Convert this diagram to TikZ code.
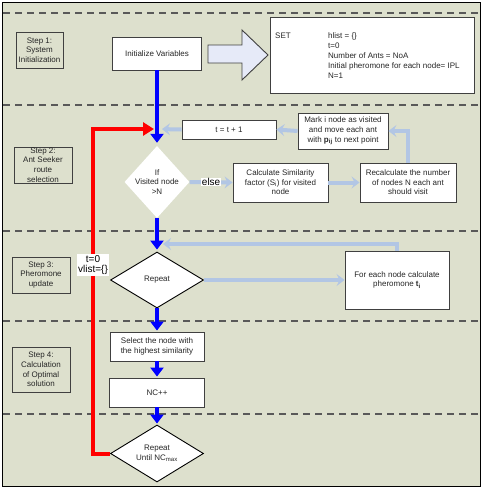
\documentclass[tikz,border=0pt]{standalone}
\usepackage{fontspec}
\setmainfont{Liberation Sans}
\usetikzlibrary{shapes.geometric,arrows.meta,calc}
\definecolor{sage}{RGB}{221,224,205}
\definecolor{lblue}{RGB}{178,198,228}
\definecolor{arrfill}{RGB}{230,234,248}
\newcommand{\myfs}{\fontsize{8}{9.6}\selectfont}
\newcommand{\mybig}{\fontsize{10}{10}\selectfont}
\begin{document}
\begin{tikzpicture}[x=1pt,y=-1pt,
  box/.style={draw=black!75, fill=white, line width=0.9pt, inner sep=1pt, align=center, font=\myfs, text=black!85},
  stepbox/.style={draw=black!75, fill=sage, line width=0.9pt, inner sep=0pt, align=center, font=\myfs, text=black!85},
  dia/.style={diamond, fill=white, inner sep=0pt},
  dtext/.style={align=center, font=\myfs, text=black!85},
  blue arrow/.style={draw=blue, line width=3.5pt, -{Triangle[width=13pt,length=9pt]}},
  red arrow/.style={draw=red, line width=4pt, -{Triangle[width=13pt,length=11pt]}},
  lb arrow/.style={draw=lblue, line width=4pt, -{Stealth[width=12pt,length=8pt,inset=3pt]}},
  sep/.style={draw=black!65, line width=1.2pt, dash pattern=on 7pt off 5pt}
]
\useasboundingbox (0,0) rectangle (483,490);
\fill[white] (0,0) rectangle (483,490);
\draw[fill=sage, line width=1pt] (2,2) rectangle (480.5,486.5);

% separators
\foreach \yy in {13,105,231,321,414} \draw[sep] (3,\yy) -- (480,\yy);

% step boxes
\node[stepbox, minimum width=47pt, minimum height=36pt] (s1) at (39.5,50) {Step 1:\\System\\Initialization};
\node[stepbox, minimum width=58pt, minimum height=36pt] (s2) at (43,165) {Step 2:\\Ant Seeker\\route\\selection};
\node[stepbox, minimum width=58pt, minimum height=36pt] (s3) at (41,275) {Step 3:\\Pheromone\\update};
\node[stepbox, minimum width=58pt, minimum height=45pt] (s4) at (41,369.5) {Step 4:\\Calculation\\of Optimal\\solution};

% step 1
\node[box, minimum width=89pt, minimum height=33pt] (init) at (157,53.5) {Initialize Variables};
\draw[draw=black!75, line width=0.9pt, fill=arrfill] (208,45) -- (242,45) -- (242,30) -- (268,55) -- (242,80) -- (242,63) -- (208,63) -- cycle;
\node[box, minimum width=204pt, minimum height=76pt] (set) at (372,55) {};
\node[anchor=north west, inner sep=0pt, font=\myfs, text=black!85] (setl) at (275,32.5) {SET};
\node[anchor=north west, inner sep=0pt, align=left, font=\fontsize{8}{10}\selectfont, text=black!85] (setv) at (328,32.5)
  {hlist = \{\}\\t=0\\Number of Ants = NoA\\Initial pheromone for each node= IPL\\N=1};

% step 2
\node[box, minimum width=94pt, minimum height=19pt] (tbox) at (229,129.5) {t = t + 1};
\node[box, minimum width=90pt, minimum height=36pt] (mark) at (343,131) {Mark i node as visited\\and move each ant\\with \textbf{p\textsubscript{ij}} to next point};
\node[box, minimum width=95pt, minimum height=39pt] (calc) at (280.5,182.5) {Calculate Similarity\\factor (S\textsubscript{i}) for visited\\node};
\node[box, minimum width=96pt, minimum height=39pt] (recalc) at (408,182.5) {Recalculate the number\\of nodes N each ant\\should visit};
\node[dia, minimum width=65pt, minimum height=72pt] (d1) at (157,182) {};
\node[dtext] (d1t) at (d1) {If\\Visited node\\>N};

% step 3
\node[dia, draw=black, line width=0.9pt, minimum width=93pt, minimum height=56pt] (rep) at (157,280) {};
\node[dtext] (rept) at (rep) {Repeat};
\node[box, minimum width=104pt, minimum height=58pt] (fe) at (397,280) {For each node calculate\\pheromone \textbf{t\textsubscript{i}}};

% step 4
\node[box, minimum width=94pt, minimum height=29pt] (sel) at (157,346.5) {Select the node with\\the highest similarity};
\node[box, minimum width=95pt, minimum height=29pt] (nc) at (157,392.5) {NC++};
\node[dia, draw=black, line width=0.9pt, minimum width=93pt, minimum height=57pt] (rep2) at (157,453.5) {};
\node[dtext] (rep2t) at (rep2) {Repeat\\Until NC\textsubscript{max}};

% junction points on the main line
\coordinate (j1) at (157,129);
\coordinate (j2) at (157,244);
\coordinate (rc) at (93,129);

% light blue connectors
\draw[lb arrow, shorten >=5pt] (tbox.west) -- (j1);
\draw[lb arrow] (mark.west) -- (tbox.east);
\draw[lb arrow] (recalc.north) |- (mark.east);
\draw[lb arrow] (calc.east) -- (recalc.west);
\draw[lb arrow] (d1.east) -- node[midway, fill=white, inner sep=0.5pt, font=\mybig] (else) {else} (calc.west);
\draw[lb arrow, shorten >=6pt] (fe.north) |- (j2);
\draw[lb arrow] (rep.east) -- (fe.west);

% red loop
\draw[red arrow, shorten >=3pt] (rep2.west) -| (rc) -- (j1);
\node[fill=white, inner sep=1pt, align=center, font=\mybig] (tlab) at (93,265) {t=0\\vlist=\{\}};

% blue main line
\draw[blue arrow, shorten >=3pt] (init.south) -- (d1.north);
\draw[blue arrow, shorten >=2pt] (d1.south) -- (rep.north);
\draw[blue arrow, shorten >=1pt] (rep.south) -- (sel.north);
\draw[blue arrow, shorten >=1pt] (sel.south) -- (nc.north);
\draw[blue arrow, shorten >=1pt] (nc.south) -- (rep2.north);
\end{tikzpicture}
\end{document}
